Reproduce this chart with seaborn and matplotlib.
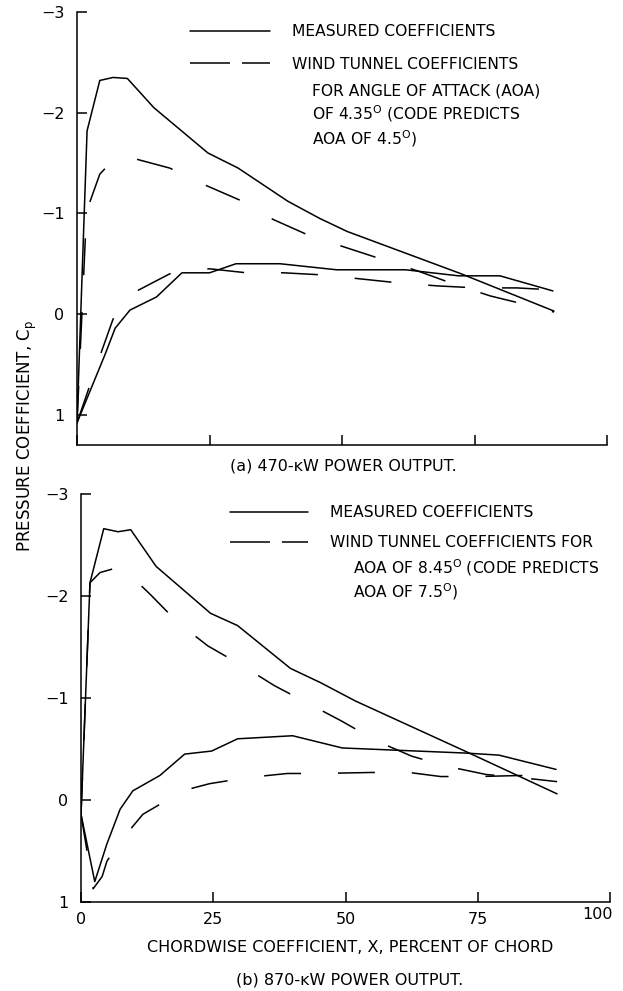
import matplotlib
matplotlib.use("Agg")
import matplotlib.pyplot as plt
from matplotlib.lines import Line2D
from matplotlib.transforms import ScaledTranslation
import seaborn as sns
import pandas as pd

# ---- (a) 470-kW power output ----
a_meas_up_x = [0, 1.9, 4.3, 6.8, 9.5, 14.5, 24.7, 30.4, 39.8, 45.8, 51.0, 72.5, 90]
a_meas_up_cp = [1.08, -1.82, -2.32, -2.35, -2.34, -2.05, -1.60, -1.45, -1.12, -0.95, -0.82, -0.40, -0.03]
a_meas_lo_x = [0, 5.3, 7.2, 10, 15, 19.8, 25, 30, 38.3, 49, 62, 72, 79.8, 89.8]
a_meas_lo_cp = [1.08, 0.40, 0.14, -0.04, -0.17, -0.41, -0.41, -0.50, -0.50, -0.44, -0.44, -0.38, -0.38, -0.23]
a_wt_up_x = [0, 1.8, 4.3, 7.2, 10.4, 17.5, 23.8, 30.8, 37, 43.4, 50.2, 57.2, 64.2, 71, 78, 85, 90]
a_wt_up_cp = [1.08, -1.02, -1.39, -1.55, -1.55, -1.45, -1.29, -1.13, -0.94, -0.79, -0.67, -0.55, -0.43,
              -0.30, -0.18, -0.09, -0.02]
a_wt_lo_x = [0, 4.3, 6.8, 11.3, 17.5, 25, 32, 39, 46, 53.4, 60.6, 68, 75.5, 83, 90]
a_wt_lo_cp = [1.08, 0.42, 0.05, -0.23, -0.40, -0.45, -0.41, -0.41, -0.39, -0.35, -0.31, -0.28, -0.26, -0.26, -0.24]

# ---- (b) 870-kW power output ----
b_meas_up_x = [0, 1.7, 4.3, 7.0, 9.4, 14.2, 24.5, 29.6, 39.6, 45.3, 51.9, 73.4, 90]
b_meas_up_cp = [0.14, -2.13, -2.66, -2.63, -2.65, -2.29, -1.83, -1.71, -1.29, -1.15, -0.97, -0.46, -0.06]
b_meas_lo_x = [0, 2.6, 4.9, 7.4, 9.8, 14.9, 19.6, 24.7, 29.6, 40, 49.4, 72.8, 79, 89.8]
b_meas_lo_cp = [0.14, 0.80, 0.43, 0.09, -0.09, -0.24, -0.45, -0.48, -0.60, -0.63, -0.51, -0.46, -0.44, -0.30]
b_wt_up_x = [0, 1.7, 3.6, 7.0, 8.0, 13.2, 18.3, 24, 30.4, 36.6, 43.2, 49.4, 55.8, 62.5, 69.2, 76.6, 83, 90]
b_wt_up_cp = [0.14, -2.13, -2.23, -2.28, -2.27, -2.01, -1.74, -1.51, -1.32, -1.12, -0.94, -0.77, -0.58,
              -0.43, -0.33, -0.25, -0.22, -0.18]
b_wt_lo_x = [0, 2.3, 4.0, 4.9, 7.2, 11.7, 15, 17.7, 24.3, 31.5, 39, 45, 55, 62, 68, 75, 83, 90]
b_wt_lo_cp = [0.14, 0.87, 0.75, 0.60, 0.42, 0.14, 0.04, -0.07, -0.16, -0.22, -0.26, -0.26, -0.27, -0.27,
              -0.23, -0.23, -0.24, -0.24]

x_ticks = [0, 25, 50, 75, 100]
y_ticks = [-3, -2, -1, 0, 1]

W, H = 623, 991

sns.set_style("ticks")
plt.rcParams["font.family"] = ["DejaVu Sans"]
plt.rcParams["text.color"] = "black"
plt.rcParams["legend.labelcolor"] = "black"
plt.rcParams["lines.scale_dashes"] = False
plt.rcParams["axes.linewidth"] = 1.1

fig = plt.figure(figsize=(W / 100, H / 100), dpi=100)


def fpos(x, y):
    """Pixel position (from the top-left) to figure fraction."""
    return x / W, 1 - y / H


def add_axes(left, top, right, bottom):
    return fig.add_axes([left / W, 1 - bottom / H, (right - left) / W, (bottom - top) / H])


ax_a = add_axes(77, 12, 607, 445)
ax_b = add_axes(81, 494, 610, 902)

DATA_DASH = (0, (26.6, 26.6))
LW = 1.1


def draw_panel(ax, mu_x, mu_cp, ml_x, ml_cp, wu_x, wu_cp, wl_x, wl_cp):
    for xs, ys, ls in [(mu_x, mu_cp, "-"), (ml_x, ml_cp, "-"),
                       (wu_x, wu_cp, DATA_DASH), (wl_x, wl_cp, DATA_DASH)]:
        df = pd.DataFrame({"x": xs, "cp": ys})
        sns.lineplot(data=df, x="x", y="cp", ax=ax, sort=False, color="black",
                     linewidth=LW, linestyle=ls, estimator=None)
    ax.set_xlim(0, 100)
    ax.set_xticks(x_ticks)
    ax.set_yticks(y_ticks)
    ax.set_xlabel("")
    ax.set_ylabel("")
    for s in ["top", "right"]:
        ax.spines[s].set_visible(False)
    for s in ["left", "bottom"]:
        ax.spines[s].set_color("black")
    ax.tick_params(axis="both", direction="in", length=7, width=1.1, color="black",
                   labelsize=11.5, labelcolor="black")
    ax.tick_params(axis="y", pad=9)
    ax.tick_params(axis="x", pad=7)


draw_panel(ax_a, a_meas_up_x, a_meas_up_cp, a_meas_lo_x, a_meas_lo_cp,
           a_wt_up_x, a_wt_up_cp, a_wt_lo_x, a_wt_lo_cp)
ax_a.set_ylim(1.30, -3.0)
ax_a.set_xticklabels([])

draw_panel(ax_b, b_meas_up_x, b_meas_up_cp, b_meas_lo_x, b_meas_lo_cp,
           b_wt_up_x, b_wt_up_cp, b_wt_lo_x, b_wt_lo_cp)
ax_b.set_ylim(1.0, -3.0)

# the "100" label sits a little left of and above its tick
last_lbl = ax_b.get_xticklabels()[-1]
last_lbl.set_transform(last_lbl.get_transform()
                       + ScaledTranslation(-13 / 100, 5 / 100, fig.dpi_scale_trans))

# legend keys
key_solid = Line2D([], [], color="black", linewidth=LW, linestyle="-")
key_dash = Line2D([], [], color="black", linewidth=LW, linestyle=(0, (28.8, 8.6)))

FS = 11.2
PX_PER_EM = FS * 100 / 72
leg_kw = dict(frameon=False, borderpad=0, borderaxespad=0, handletextpad=22 / PX_PER_EM,
              fontsize=FS, labelcolor="black", loc="upper left", bbox_transform=fig.transFigure)
ax_a.legend([key_solid, key_dash], ["MEASURED COEFFICIENTS", "WIND TUNNEL COEFFICIENTS"],
            bbox_to_anchor=fpos(190, 24), handlelength=80 / PX_PER_EM, labelspacing=1.15, **leg_kw)
ax_b.legend([key_solid, key_dash], ["MEASURED COEFFICIENTS", "WIND TUNNEL COEFFICIENTS FOR"],
            bbox_to_anchor=fpos(230, 505), handlelength=78 / PX_PER_EM, labelspacing=0.97, **leg_kw)

txt = dict(fontsize=FS, color="black", ha="left", va="baseline")
fig.text(*fpos(312, 96), "FOR ANGLE OF ATTACK (AOA)", **txt)
fig.text(*fpos(312, 120), "OF 4.35$^{\\mathrm{O}}$ (CODE PREDICTS", **txt)
fig.text(*fpos(312, 144), "AOA OF 4.5$^{\\mathrm{O}}$)", **txt)
fig.text(*fpos(353, 573), "AOA OF 8.45$^{\\mathrm{O}}$ (CODE PREDICTS", **txt)
fig.text(*fpos(353, 597), "AOA OF 7.5$^{\\mathrm{O}}$)", **txt)

cap = dict(fontsize=11.5, color="black", ha="center", va="center")
fig.text(*fpos(343, 466), "(a) 470-\u1d0bW POWER OUTPUT.", **cap)
fig.text(*fpos(350, 948), "CHORDWISE COEFFICIENT, X, PERCENT OF CHORD", **cap)
fig.text(*fpos(350, 980), "(b) 870-\u1d0bW POWER OUTPUT.", **cap)
fig.text(*fpos(27, 436), "PRESSURE COEFFICIENT, C$_\\mathrm{p}$", rotation=90,
         **dict(cap, fontsize=12))

fig.savefig("out.png", dpi=100, facecolor="white")
